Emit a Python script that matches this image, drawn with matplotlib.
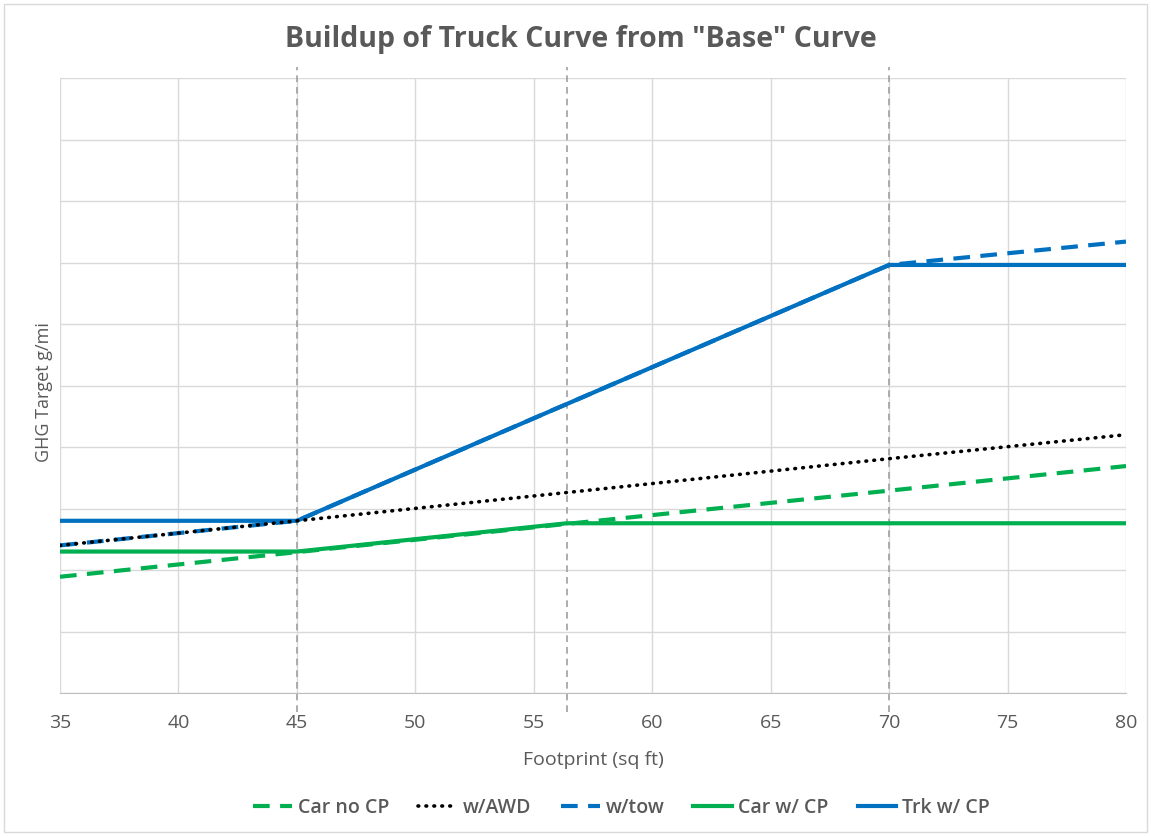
import matplotlib
matplotlib.use("Agg")
import matplotlib.pyplot as plt
from matplotlib.patches import Rectangle

# footprint breakpoints (sq ft) and GHG target (arbitrary units, grid = 1)
x_pts = [35, 45, 56.4, 70, 80]
car_no_cp = [1.89, 2.29, 2.75, 3.29, 3.69]
w_awd = [2.40, 2.80, 3.26, 3.81, 4.20]
w_tow = [2.40, 2.80, 4.70, 6.96, 7.34]
car_w_cp = [2.30, 2.30, 2.76, 2.76, 2.76]
trk_w_cp = [2.80, 2.80, 4.70, 6.96, 6.96]

cutpoints = [45, 56.4, 70]
x_ticks = [35, 40, 45, 50, 55, 60, 65, 70, 75, 80]

BLUE = "#0070C0"
GREEN = "#00B050"
GREY_TXT = "#595959"

plt.rcParams['font.family'] = ['Open Sans', 'DejaVu Sans']

fig = plt.figure(figsize=(11.51, 8.36), dpi=100)
ax = fig.add_axes([60/1151, 1-693/836, (1126-60)/1151, (693-78)/836])

l1, = ax.plot(x_pts, car_no_cp, color=GREEN, lw=3, ls=(0, (4, 2.5)), zorder=3)
l3, = ax.plot(x_pts, w_tow, color=BLUE, lw=3, ls=(0, (4, 2.5)), zorder=3)
l2, = ax.plot(x_pts, w_awd, color="black", lw=2.6, ls=(0, (0.2, 2.0)),
              dash_capstyle='round', zorder=5)
l4, = ax.plot(x_pts, car_w_cp, color=GREEN, lw=3, zorder=4)
l5, = ax.plot(x_pts, trk_w_cp, color=BLUE, lw=3, zorder=4)

for c in cutpoints:
    ax.plot([c, c], [-0.31, 10.18], color="#a0a0a0", lw=1.2,
            ls=(0, (4, 3)), clip_on=False, zorder=2)

ax.set_xlim(35, 80)
ax.set_ylim(0, 10)
ax.set_xticks(x_ticks)
ax.set_yticks(range(0, 11))
ax.set_yticklabels([])
ax.grid(True, color="#d9d9d9", lw=1)
ax.set_axisbelow(True)
ax.tick_params(length=0, labelsize=14, labelcolor=GREY_TXT, pad=15)
for s in ["top", "right", "left"]:
    ax.spines[s].set_visible(False)
ax.spines["bottom"].set_color("#bfbfbf")

ax.set_xlabel("Footprint (sq ft)", fontsize=14, color=GREY_TXT, labelpad=14)
ax.set_ylabel("GHG Target g/mi", fontsize=13, color=GREY_TXT)
ax.yaxis.set_label_coords(-0.007, 0.49)

fig.text(0.505, 1-40/836, 'Buildup of Truck Curve from "Base" Curve',
         ha="center", va="center", fontsize=20.5, fontweight="bold", color=GREY_TXT)

fig.legend([l1, l2, l3, l4, l5],
           ["Car no CP", "w/AWD", "w/tow", "Car w/ CP", "Trk w/ CP"],
           loc="center", bbox_to_anchor=(0.54, 1-808/836), ncol=5, frameon=False,
           handlelength=2.0, handletextpad=0.3, columnspacing=1.5,
           prop={'size': 14, 'weight': 'semibold'}, labelcolor=GREY_TXT)

fig.add_artist(Rectangle((4/1151, 4/836), 1-8/1151, 1-8/836, transform=fig.transFigure,
                         fill=False, edgecolor="#d9d9d9", lw=1))

fig.savefig("out.png", dpi=100)
